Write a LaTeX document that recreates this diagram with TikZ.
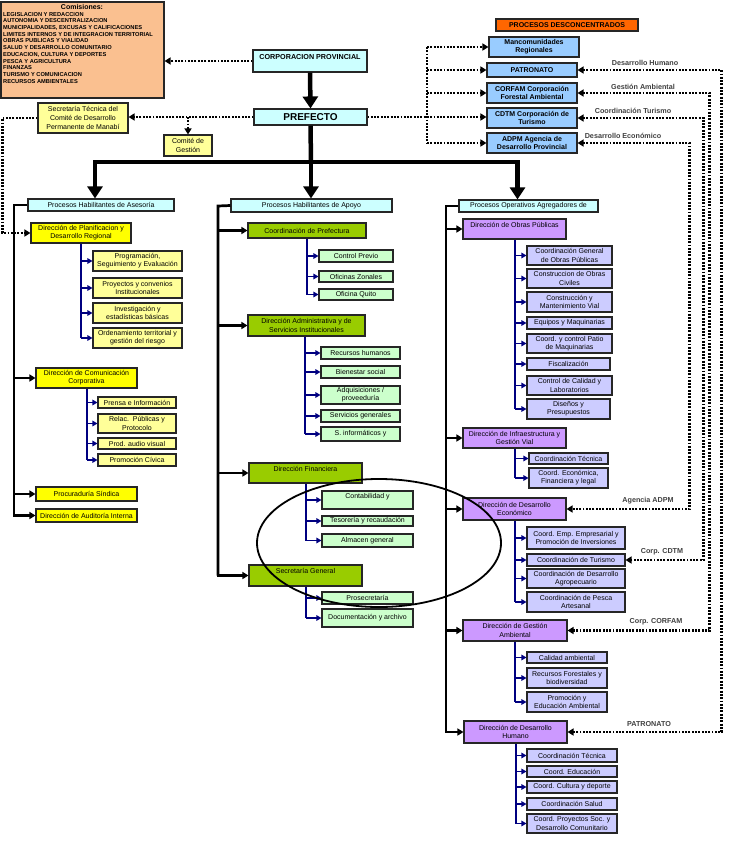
\documentclass[tikz,border=0pt]{standalone}
\usepackage{fontspec}
\setmainfont{Liberation Sans}
\usetikzlibrary{arrows.meta,calc}
\definecolor{cyanL}{HTML}{CCFFFF}
\definecolor{blueB}{HTML}{99CCFF}
\definecolor{peach}{HTML}{FAC090}
\definecolor{orng}{HTML}{FF6600}
\definecolor{yel}{HTML}{FFFF00}
\definecolor{yelL}{HTML}{FFFF99}
\definecolor{grn}{HTML}{99CC00}
\definecolor{grnL}{HTML}{CCFFCC}
\definecolor{pur}{HTML}{CC99FF}
\definecolor{purL}{HTML}{CCCCFF}
\definecolor{navyc}{HTML}{000080}
\newcommand\fsz{\fontsize{7}{8.2}\selectfont}
\newcommand\bx[7]{%
  \pgfmathsetmacro\bxw{#4-#2}\pgfmathsetmacro\bxh{#5-#3}%
  \pgfmathsetmacro\bxcx{(#2+#4)/2}\pgfmathsetmacro\bxcy{(#3+#5)/2}%
  \node[#6, minimum width=\bxw pt, minimum height=\bxh pt] (#1) at (\bxcx,\bxcy) {#7};}
\newcommand\subtr[4]{\coordinate (tmpv) at (#1,0);
  \draw[subln] (#2.south -| tmpv) -- (#3.west -| tmpv);
  \foreach \c in {#4} {\draw[suba] (\c.west -| tmpv) -- (\c.west);}}
\tikzset{
  bx/.style={draw=black!85, line width=1.1pt, inner sep=0pt, align=center, font=\fsz},
  bbx/.style={bx, fill=blueB, font=\bfseries\fontsize{7}{8}\selectfont},
  colln/.style={line width=2.7pt, line join=miter},
  cola/.style={colln, -{Triangle[length=6pt,width=7pt]}},
  subln/.style={line width=1.7pt, navyc},
  suba/.style={subln, -{Triangle[length=5pt,width=5.5pt]}},
  dotln/.style={line width=2.2pt, dash pattern=on 1.9pt off 1.4pt},
  dota/.style={dotln, -{Triangle[length=6pt,width=7pt]}},
  dotaa/.style={dotln, {Triangle[length=6pt,width=7pt]}-{Triangle[length=6pt,width=7pt]}},
  bigln/.style={line width=4.5pt},
  biga/.style={bigln, -{Triangle[length=12pt,width=15pt]}},
  lbl/.style={inner sep=0pt, font=\bfseries\fontsize{7.2}{8}\selectfont, text=black!75},
}
\begin{document}
\begin{tikzpicture}[x=1pt,y=-1pt]
\fill[white] (0,0) rectangle (731,861);
\useasboundingbox (0,0) rectangle (731,861);

% ---- top ----
\bx{comis}{1}{2}{164}{98}{bx,fill=peach}{}
\node[inner sep=0pt, font=\bfseries\fontsize{7}{8}\selectfont] (comt) at (82,7.5) {Comisiones:};
\node[inner sep=0pt, anchor=north west, align=left, font=\bfseries\fontsize{5.7}{6.7}\selectfont] (coml) at (3,12) {%
LEGISLACION Y REDACCION\\
AUTONOMIA Y DESCENTRALIZACION\\
MUNICIPALIDADES, EXCUSAS Y CALIFICACIONES\\
LIMITES INTERNOS Y DE INTEGRACION TERRITORIAL\\
OBRAS PUBLICAS Y VIALIDAD\\
SALUD Y DESARROLLO COMUNITARIO\\
EDUCACION, CULTURA Y DEPORTES\\
PESCA Y AGRICULTURA\\
FINANZAS\\
TURISMO Y COMUNICACION\\
RECURSOS AMBIENTALES};
\bx{corp}{253}{50}{367}{72}{bx,fill=cyanL,font=\bfseries\fontsize{7.2}{8}\selectfont}{CORPORACION PROVINCIAL\\\mbox{}}
\bx{pref}{254}{109}{367}{125}{bx,fill=cyanL,font=\bfseries\fontsize{10}{11}\selectfont}{PREFECTO}
\bx{sec}{38}{103}{128}{133}{bx,fill=yelL,font=\fontsize{7}{8.8}\selectfont}{Secretaría Técnica del\\Comité de Desarrollo\\Permanente de Manabí}
\bx{comite}{164}{135}{212}{156}{bx,fill=yelL}{Comité de\\Gestión}
\bx{pdes}{496}{19}{638}{31}{bx,fill=orng,font=\bfseries\fontsize{7}{8}\selectfont}{PROCESOS DESCONCENTRADOS}
\bx{manc}{489}{37}{579}{57}{bbx}{Mancomunidades\\Regionales}
\bx{patr}{487}{63}{577}{77}{bbx}{PATRONATO}
\bx{corf}{487}{83}{577}{103}{bbx}{CORFAM Corporación\\Forestal Ambiental}
\bx{cdtm}{487}{108}{577}{128}{bbx}{CDTM Corporación de\\Turismo}
\bx{adpm}{487}{133}{577}{153}{bbx}{ADPM Agencia de\\Desarrollo Provincial}

% ---- headers ----
\bx{hA}{28}{199}{174}{211}{bx,fill=cyanL}{Procesos Habilitantes de Asesoría}
\bx{hB}{231}{199}{392}{212}{bx,fill=cyanL}{Procesos Habilitantes de Apoyo}
\bx{hC}{459}{200}{598}{212}{bx,fill=cyanL}{Procesos Operativos Agregadores de}

% ---- left column ----
\bx{plan}{31}{223}{131}{243}{bx,fill=yel}{Dirección de Planificacion y\\Desarrollo Regional}
\bx{l1}{93}{251}{182}{271}{bx,fill=yelL}{Programación,\\Seguimiento y Evaluación}
\bx{l2}{93}{278}{182}{298}{bx,fill=yelL}{Proyectos y convenios\\Institucionales}
\bx{l3}{93}{303}{182}{323}{bx,fill=yelL}{Investigación y\\estadísticas básicas}
\bx{l4}{93}{328}{182}{348}{bx,fill=yelL}{Ordenamiento territorial y\\gestión del riesgo}
\bx{com}{36}{368}{137}{388}{bx,fill=yel}{Dirección de Comunicación\\Corporativa}
\bx{c1}{98}{397}{176}{408}{bx,fill=yelL}{Prensa e Información}
\bx{c2}{98}{414}{176}{433}{bx,fill=yelL}{Relac.\ \ Públicas y\\Protocolo}
\bx{c3}{98}{438}{176}{449}{bx,fill=yelL}{Prod. audio visual}
\bx{c4}{98}{454}{176}{466}{bx,fill=yelL}{Promoción Cívica}
\bx{proc}{36}{487}{137}{501}{bx,fill=yel}{Procuraduría Síndica}
\bx{aud}{36}{509}{137}{522}{bx,fill=yel}{Dirección de Auditoría Interna}

% ---- middle column ----
\bx{cp}{248}{223}{366}{238}{bx,fill=grn}{Coordinación de Prefectura}
\bx{cp1}{319}{250}{393}{262}{bx,fill=grnL}{Control Previo}
\bx{cp2}{319}{271}{393}{282}{bx,fill=grnL}{Oficinas Zonales}
\bx{cp3}{319}{289}{393}{300}{bx,fill=grnL}{Oficina Quito}
\bx{adm}{248}{315}{365}{336}{bx,fill=grn}{Dirección Administrativa y de\\Servicios Institucionales}
\bx{a1}{321}{347}{400}{359}{bx,fill=grnL}{Recursos humanos}
\bx{a2}{321}{366}{400}{378}{bx,fill=grnL}{Bienestar social}
\bx{a3}{321}{386}{400}{404}{bx,fill=grnL}{Adquisiciones /\\proveeduría}
\bx{a4}{321}{410}{400}{422}{bx,fill=grnL}{Servicios generales}
\bx{a5}{321}{427}{400}{441}{bx,fill=grnL}{S. informáticos y}
\bx{fin}{249}{463}{362}{483}{bx,fill=grn}{Dirección Financiera\\\mbox{}}
\bx{f1}{322}{491}{413}{509}{bx,fill=grnL}{Contabilidad y\\\mbox{}}
\bx{f2}{322}{516}{413}{526}{bx,fill=grnL}{Tesorería y recaudación}
\bx{f3}{322}{534}{413}{547}{bx,fill=grnL}{Almacen general}
\bx{sg}{249}{565}{362}{586}{bx,fill=grn}{Secretaría General\\\mbox{}}
\bx{s1}{322}{592}{413}{604}{bx,fill=grnL}{Prosecretaría}
\bx{s2}{322}{609}{413}{627}{bx,fill=grnL}{Documentación y archivo}

% ---- right column ----
\bx{op}{463}{219}{566}{239}{bx,fill=pur}{Dirección de Obras Públicas\\\mbox{}}
\bx{o1}{527}{246}{612}{265}{bx,fill=purL}{Coordinación General\\de Obras Públicas}
\bx{o2}{527}{269}{612}{288}{bx,fill=purL}{Construccion de Obras\\Civiles}
\bx{o3}{527}{292}{612}{312}{bx,fill=purL}{Construcción y\\Mantenimiento Vial}
\bx{o4}{527}{317}{612}{329}{bx,fill=purL}{Equipos y Maquinarias}
\bx{o5}{527}{334}{612}{353}{bx,fill=purL}{Coord. y control Patio\\de Maquinarias}
\bx{o6}{527}{358}{610}{370}{bx,fill=purL}{Fiscalización}
\bx{o7}{527}{376}{612}{395}{bx,fill=purL}{Control de Calidad y\\Laboratorios}
\bx{o8}{527}{399}{610}{419}{bx,fill=purL}{Diseños y\\Presupuestos}
\bx{inf}{463}{428}{566}{448}{bx,fill=pur}{Dirección de Infraestructura y\\Gestión Vial}
\bx{i1}{529}{453}{608}{464}{bx,fill=purL}{Coordinación Técnica}
\bx{i2}{529}{468}{608}{488}{bx,fill=purL}{Coord. Económica,\\Financiera y legal}
\bx{de}{463}{498}{566}{520}{bx,fill=pur}{Dirección de Desarrollo\\Económico}
\bx{d1}{527}{527}{625}{549}{bx,fill=purL}{Coord. Emp. Empresarial y\\Promoción de Inversiones}
\bx{d2}{527}{554}{625}{566}{bx,fill=purL}{Coordinación de Turismo}
\bx{d3}{527}{569}{625}{588}{bx,fill=purL}{Coordinación de Desarrollo\\Agropecuario}
\bx{d4}{527}{592}{625}{612}{bx,fill=purL}{Coordinación de Pesca\\Artesanal}
\bx{ga}{463}{620}{567}{641}{bx,fill=pur}{Dirección de Gestión\\Ambiental}
\bx{g1}{527}{652}{607}{663}{bx,fill=purL}{Calidad ambiental}
\bx{g2}{527}{668}{607}{688}{bx,fill=purL}{Recursos Forestales y\\biodiversidad}
\bx{g3}{527}{692}{607}{712}{bx,fill=purL}{Promoción y\\Educación Ambiental}
\bx{dh}{464}{721}{567}{743}{bx,fill=pur}{Dirección de Desarrollo\\Humano}
\bx{h1}{527}{749}{617}{762}{bx,fill=purL}{Coordinación Técnica}
\bx{h2}{527}{766}{617}{777}{bx,fill=purL}{Coord. Educación}
\bx{h3}{527}{781}{617}{793}{bx,fill=purL}{Coord. Cultura y deporte}
\bx{h4}{527}{798}{617}{810}{bx,fill=purL}{Coordinación Salud}
\bx{h5}{527}{814}{617}{833}{bx,fill=purL}{Coord. Proyectos Soc. y\\Desarrollo Comunitario}

% ---- main tree ----
\draw[biga] (corp.south) -- (pref.north);
\coordinate (bus) at (311,162);
\draw[bigln] (pref.south) -- (bus);
\draw[biga] (bus) -| ($(hA.north)+(-6,0)$);
\draw[biga] (bus) -- (bus |- hB.north);
\draw[biga] (bus) -| ($(hC.north)+(-11,0)$);

% ---- columns ----
\coordinate (lc) at (14,205);
\draw[colln] (hA.west) -- (lc) -- (lc |- aud.west);
\foreach \n in {com,proc,aud} {\draw[cola] (lc) |- (\n.west);}
\coordinate (mc) at (218,206);
\draw[colln] (hB.west) -- (mc) -- (mc |- sg.west);
\foreach \n in {cp,adm,fin,sg} {\draw[cola] (mc) |- (\n.west);}
\coordinate (rc) at (446,206);
\draw[colln] (hC.west) -- (rc) -- (rc |- dh.west);
\foreach \n in {op,inf,de,ga,dh} {\draw[cola] (rc) |- (\n.west);}

% ---- sub trees ----
\subtr{81}{plan}{l4}{l1,l2,l3,l4}
\subtr{87}{com}{c4}{c1,c2,c3,c4}
\subtr{307}{cp}{cp3}{cp1,cp2,cp3}
\subtr{305}{adm}{a5}{a1,a2,a3,a4,a5}
\subtr{306}{fin}{f3}{f1,f2,f3}
\subtr{306}{sg}{s2}{s1,s2}
\subtr{515}{op}{o8}{o1,o2,o3,o4,o5,o6,o7,o8}
\subtr{515}{inf}{i2}{i1,i2}
\subtr{515}{de}{d4}{d1,d2,d3,d4}
\subtr{515}{ga}{g3}{g1,g2,g3}
\subtr{516}{dh}{h5}{h1,h2,h3,h4,h5}

% ---- dotted links ----
\draw[dota] (corp.west) -- (corp.west -| comis.east);
\draw[dota] (pref.west) -- (pref.west -| sec.east);
\draw[dota] (comite.north |- pref.west) -- (comite.north);
\draw[dota] (sec.west) -- ++(-35,0) |- (plan.west);
\coordinate (rb) at (427,117);
\draw[dotln] (rb |- manc.west) -- (rb |- adpm.west);
\draw[dota] (pref.east) -- (pref.east -| cdtm.west);
\foreach \n in {manc,patr,corf,adpm} {\draw[dota] (rb |- \n.west) -- (\n.west);}
\draw[dotaa] (patr.east) -- ++(144,0) |- (dh.east);
\draw[dotaa] (corf.east) -- ++(132,0) |- (ga.east);
\draw[dotaa] (cdtm.east) -- ++(126,0) |- (d2.east);
\draw[dotaa] (adpm.east) -- ++(112,0) |- (de.east);

\node[lbl] (t1) at (645,63) {Desarrollo Humano};
\node[lbl] (t2) at (643,87) {Gestión Ambiental};
\node[lbl] (t3) at (633,111) {Coordinación Turismo};
\node[lbl] (t4) at (623,136) {Desarrollo Económico};
\node[lbl] (t5) at (648,501) {Agencia ADPM};
\node[lbl] (t6) at (662,552) {Corp. CDTM};
\node[lbl] (t7) at (656,622) {Corp. CORFAM};
\node[lbl] (t8) at (649,724) {PATRONATO};

% ---- ellipse ----
\draw[line width=1.8pt] (379,543) ellipse [x radius=122pt, y radius=64pt];
\end{tikzpicture}
\end{document}
